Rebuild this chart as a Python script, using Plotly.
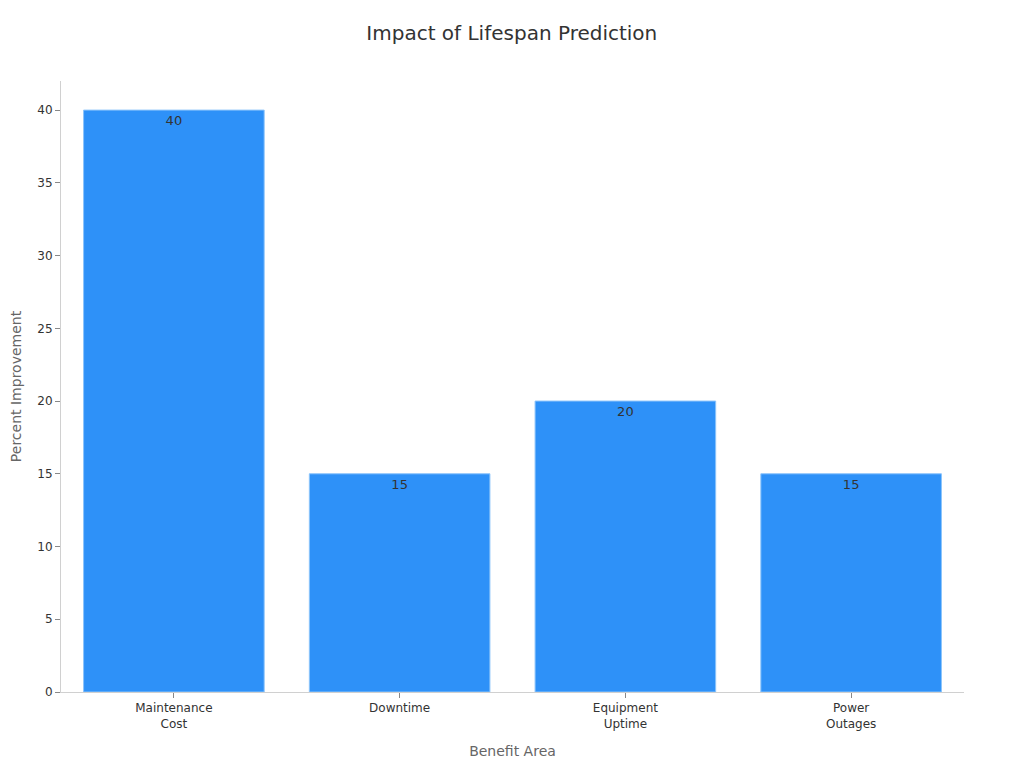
import plotly.graph_objects as go

categories = ["Maintenance<br>Cost", "Downtime", "Equipment<br>Uptime", "Power<br>Outages"]
improvement = [40, 15, 20, 15]

fig = go.Figure()

fig.add_trace(go.Bar(
    x=categories,
    y=improvement,
    text=improvement,
    textposition="inside",
    insidetextanchor="end",
    textfont=dict(color="#333333", size=13),
    marker=dict(color="#2e91f8", line=dict(color="#8cc4fb", width=1)),
    width=0.8,
))

fig.update_layout(
    title=dict(text="Impact of Lifespan Prediction", x=0.492, y=0.967,
               xanchor="center", yanchor="middle",
               font=dict(size=20, color="#333333")),
    font=dict(family="DejaVu Sans", size=12, color="#333333"),
    plot_bgcolor="white",
    paper_bgcolor="white",
    width=1024,
    height=768,
    margin=dict(l=53, r=68, t=73, b=84),
    showlegend=False,
)

fig.update_xaxes(
    title=dict(text="Benefit Area", font=dict(size=14, color="#666666"), standoff=16),
    showline=True, linecolor="#d0d0d0", linewidth=1,
    ticks="outside", tickcolor="#888888", ticklen=5,
    showgrid=False,
)
fig.update_yaxes(
    title=dict(text="Percent Improvement", font=dict(size=14, color="#666666")),
    range=[0, 42],
    dtick=5,
    automargin=False,
    showline=True, linecolor="#d0d0d0", linewidth=1,
    ticks="outside", tickcolor="#888888", ticklen=5,
    showgrid=False, zeroline=False,
)

fig.write_html("out.html")
